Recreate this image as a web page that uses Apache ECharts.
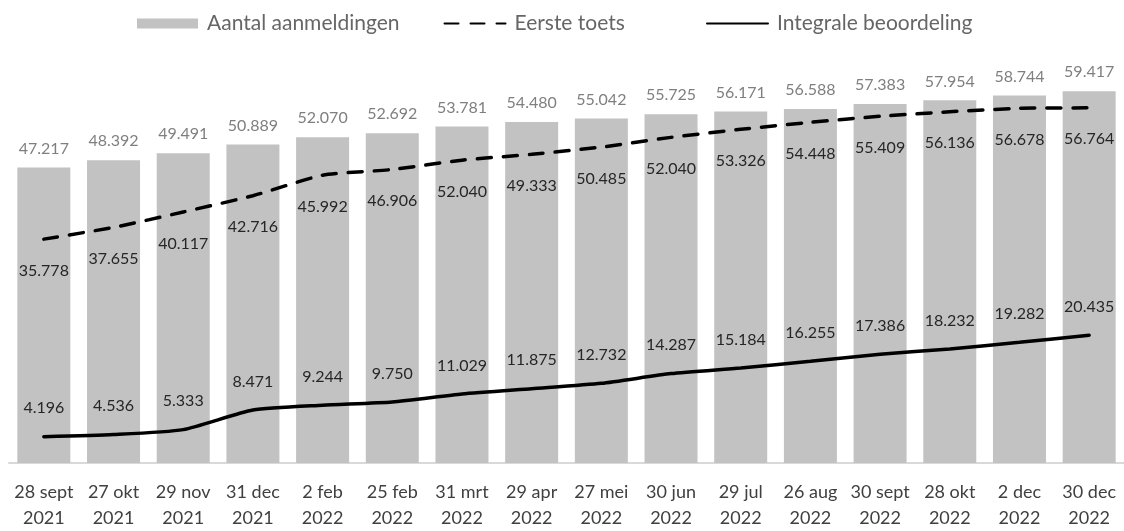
<!DOCTYPE html>
<html>
<head>
<meta charset="utf-8">
<script src="https://cdn.jsdelivr.net/npm/echarts@6/dist/echarts.min.js"></script>
<style>
html,body{margin:0;padding:0;background:#fff;}
#chart{width:1124px;height:531px;}
</style>
</head>
<body>
<div id="chart"></div>
<script>
const categories = ['28 sept\n2021','27 okt\n2021','29 nov\n2021','31 dec\n2021','2 feb\n2022','25 feb\n2022','31 mrt\n2022','29 apr\n2022','27 mei\n2022','30 jun\n2022','29 jul\n2022','26 aug\n2022','30 sept\n2022','28 okt\n2022','2 dec\n2022','30 dec\n2022'];
const aanmeldingen = [47217,48392,49491,50889,52070,52692,53781,54480,55042,55725,56171,56588,57383,57954,58744,59417];
// line position as drawn in the reference
const eersteToets = [35778,37655,40117,42716,45992,46906,48400,49333,50485,52040,53326,54448,55409,56136,56678,56764];
// label text as printed in the reference
const eersteToetsLabels = ['35.778','37.655','40.117','42.716','45.992','46.906','52.040','49.333','50.485','52.040','53.326','54.448','55.409','56.136','56.678','56.764'];
const integrale = [4196,4536,5333,8471,9244,9750,11029,11875,12732,14287,15184,16255,17386,18232,19282,20435];

function fmt(v){ return String(v).replace(/\B(?=(\d{3})+(?!\d))/g,'.'); }

const chart = echarts.init(document.getElementById('chart'), null, {renderer:'canvas'});
const font = 'Lato';
const legendBase = {
  top:8,
  itemGap:44,
  itemWidth:61,
  itemHeight:10,
  textStyle:{fontFamily:font,fontSize:21,color:'#666666',padding:[0,0,0,4]}
};
chart.setOption({
  animation:false,
  backgroundColor:'#ffffff',
  legend:[
    Object.assign({}, legendBase, {
      left:132,
      data:[
        {name:'Aantal aanmeldingen', icon:'rect', itemStyle:{color:'#c2c2c2'}},
        {name:'Eerste toets'}
      ]
    }),
    Object.assign({}, legendBase, {
      left:701,
      data:[{name:'Integrale beoordeling'}]
    })
  ],
  grid:{left:9,width:1118,top:25,bottom:64,containLabel:false},
  xAxis:{
    type:'category',
    data:categories,
    axisLine:{lineStyle:{color:'#d9d9d9',width:2}},
    axisTick:{show:false},
    axisLabel:{fontFamily:font,fontSize:18,color:'#404040',lineHeight:26,margin:16,interval:0}
  },
  yAxis:{type:'value',min:0,max:70000,show:false,splitLine:{show:false}},
  series:[
    {
      name:'Aantal aanmeldingen',
      type:'bar',
      data:aanmeldingen,
      barWidth:53,
      itemStyle:{color:'#c2c2c2'},
      label:{show:true,position:'top',distance:11,fontFamily:font,fontSize:16,color:'#7f7f7f',formatter:p=>fmt(p.value)},
      z:1
    },
    {
      name:'Eerste toets',
      type:'line',
      data:eersteToets,
      smooth:0.2,
      symbol:'circle',
      symbolSize:1,
      showSymbol:true,
      lineStyle:{color:'#000',width:3.5,type:[14,12],cap:'round'},
      itemStyle:{color:'rgba(0,0,0,0)'},
      label:{show:true,position:'bottom',distance:23,fontFamily:font,fontSize:16,color:'#262626',formatter:p=>eersteToetsLabels[p.dataIndex]},
      z:3
    },
    {
      name:'Integrale beoordeling',
      type:'line',
      data:integrale,
      smooth:0.2,
      symbol:'circle',
      symbolSize:1,
      showSymbol:true,
      lineStyle:{color:'#000',width:3.5,cap:'round'},
      itemStyle:{color:'rgba(0,0,0,0)'},
      label:{show:true,position:'top',distance:20,fontFamily:font,fontSize:16,color:'#262626',formatter:p=>fmt(p.value)},
      z:3
    }
  ]
});
</script>
</body>
</html>
